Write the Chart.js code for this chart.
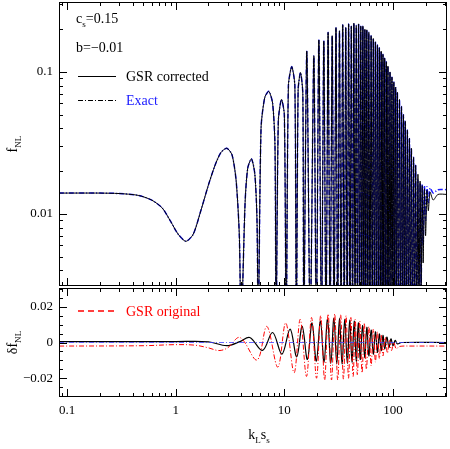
<!DOCTYPE html>
<html><head><meta charset="utf-8">
<script src="https://cdn.jsdelivr.net/npm/chart.js@4"></script>
<style>
body{margin:0;background:#fff}
#top{position:absolute;left:0;top:0}
#bot{position:absolute;left:0;top:286px}
</style></head>
<body>
<div id="top" style="width:450px;height:288px"><canvas id="c1"></canvas></div>
<div id="bot" style="width:450px;height:163px"><canvas id="c2"></canvas></div>
<script>
// top panel: f_NL against k_L s_s (smooth part, then peaks / troughs)
const kTop = [0.084,0.2,0.3,0.45,0.6,0.75,0.9,1.05,1.24,1.45,1.7,2.0,2.3,2.6,2.95,3.3,3.6,3.85,4.0,
  4.35,4.6,4.98,5.35,5.6,5.75, 6.1,6.6,7.2,7.8,8.2,8.4, 8.8,9.4,10.0,10.4,
  10.9,11.7,12.5,12.9, 13.4,14.1,14.8,15.1, 16.1,17.3, 18.7,19.7, 20.8,22.0, 23.1,24.2,
  25.3,26.4,27.6,28.7,29.9,31.0,32.2,33.3,34.5,35.6,36.8,37.9,39.1,40.2,41.4,42.5,43.7,44.8,
  46.0,47.1,48.3,49.4,50.6,51.7,52.9,54.0,55.2,56.3,57.5,58.8,60,61.5,63,64.5,66,67.5,69,70.5,
  72,73.5,75,76.5,78,79.5,81,82.5,84,85.5,87,88.5,90,92,94,96,98,100,102,104,106,108,110,112.5,
  115,117.5,120,122.5,125,127.5,130,133,136,139,142,145,148,151.5,155,158.5,162,166,170,174,
  178,182,186,190,195,200,206,212,220,235,260,315];
const fCorrected = [0.014,0.014,0.0139,0.0135,0.0125,0.011,0.0088,0.0072,0.0064,0.0072,0.0105,0.016,0.022,0.027,0.029,0.026,0.017,0.007,0.0015,
  0.012,0.021,0.0244,0.019,0.009,0.0015, 0.04,0.066,0.073,0.06,0.03,0.0015, 0.045,0.064,0.05,0.0015,
  0.08,0.109,0.08,0.0015, 0.075,0.099,0.07,0.0015, 0.14,0.0015, 0.13,0.0015, 0.168,0.0015, 0.165,0.0015,
  0.19,0.0015,0.18,0.0015,0.205,0.0015,0.195,0.0015,0.215,0.0015,0.205,0.0015,0.218,0.0015,0.21,0.0015,0.22,0.0015,
  0.212,0.0015,0.218,0.0015,0.21,0.0015,0.21,0.0015,0.2,0.0015,0.198,0.0015,0.19,0.0015,0.18,0.0015,0.172,0.0015,0.163,0.0015,
  0.155,0.0015,0.148,0.0015,0.14,0.0015,0.133,0.0015,0.125,0.0015,0.118,0.0015,0.11,0.0015,0.1,0.0015,0.092,0.0015,0.085,0.0015,0.078,0.0015,0.072,0.0015,
  0.064,0.0015,0.057,0.0015,0.05,0.0015,0.045,0.0015,0.039,0.0015,0.034,0.0015,0.029,0.0015,0.025,0.0015,0.022,0.0015,0.019,0.002,
  0.017,0.003,0.0158,0.0045,0.015,0.007,0.0146,0.0105,0.0142,0.0125,0.0137,0.0137];
const fExact = fCorrected.slice(0, fCorrected.length - 14).concat(
  [0.0175,0.0015,0.0165,0.003,0.0162,0.006,0.0158,0.009,0.0155,0.012,0.0152,0.014,0.0148,0.0148]);

// bottom panel: delta f_NL
const kCorr = [0.084,1,2,2.95,3.9,4.8,6.3,7.8,9.5,11.3,13,14.6,16.3,18,19.7,21.5,23.2,25,26.8,28.6,30.4,32.2,34,36,38,40,42,44,46,48,50,52.5,55,57.5,60,63,66,69,72,75,78,81,84,88,92,96,100,105,110,120,315];
const dCorr = [0.0005,0.0005,0.0004,-0.0018,0.0005,0.0028,-0.0044,0.0056,-0.0065,0.0075,-0.008,0.009,-0.0095,0.011,-0.0105,0.012,-0.011,0.013,-0.0115,0.0135,-0.012,0.0135,-0.012,0.013,-0.0115,0.0125,-0.011,0.012,-0.0105,0.011,-0.0095,0.0095,-0.0085,0.0085,-0.0075,0.007,-0.0065,0.006,-0.0055,0.0048,-0.0045,0.004,-0.0035,0.003,-0.0027,0.002,-0.0018,0.0012,-0.0008,0,0];
const kOrig = [0.084,0.5,1,1.5,2.0,2.5,3.0,3.9,5.6,6.9,8.7,10.3,12.3,14,16,17.8,19.8,21.6,23.5,25.3,27.2,29.1,31,33,35,37,39,41,43,45,47,49.5,52,54.5,57,60,63,66,69,72,75,78,81,85,89,93,97,102,107,115,150,315];
const dOrig = [-0.002,-0.0018,-0.0012,-0.0015,-0.003,-0.0045,-0.003,0.0028,-0.0098,0.009,-0.0138,0.011,-0.017,0.013,-0.019,0.014,-0.02,0.015,-0.021,0.016,-0.021,0.016,-0.021,0.0155,-0.0205,0.015,-0.02,0.014,-0.019,0.013,-0.018,0.012,-0.017,0.011,-0.015,0.009,-0.013,0.0075,-0.011,0.006,-0.009,0.0045,-0.0075,0.003,-0.006,0.0015,-0.0045,0,-0.0035,-0.0022,-0.002,-0.002];

const xTicks = [0.1, 1, 10, 100];
const xMin = 0.084, xMax = 315;
const FONT = '"Liberation Serif", serif';
const DASHDOT = [5, 2, 1, 2];

function pts(xs, ys) { return xs.map((x, i) => ({x: x, y: ys[i]})); }

function subText(ctx, parts, x, y, size) {
  let cx = x;
  for (const [t, sub] of parts) {
    ctx.font = (sub ? size * 0.65 : size) + 'px ' + FONT;
    ctx.fillText(t, cx, y + (sub ? size * 0.3 : 0));
    cx += ctx.measureText(t).width;
  }
  return cx;
}
function partsWidth(ctx, parts, size) {
  let w = 0;
  for (const [t, sub] of parts) { ctx.font = (sub ? size * 0.65 : size) + 'px ' + FONT; w += ctx.measureText(t).width; }
  return w;
}
function logTicks(lo, hi) {
  const out = [];
  for (let e = -4; e <= 3; e++) for (let m = 1; m <= 9; m++) {
    const v = m * Math.pow(10, e);
    if (v >= lo && v <= hi) out.push([v, m === 1]);
  }
  return out;
}

const panels = {
  c1: {
    logY: true, yLabels: [0.1, 0.01], yFmt: v => String(v), xLabels: false,
    yTitle: [['f', false], ['NL', true]],
    legend(ctx) {
      ctx.fillStyle = '#000'; ctx.textAlign = 'left'; ctx.textBaseline = 'alphabetic';
      subText(ctx, [['c', false], ['s', true], ['=0.15', false]], 76, 23, 14);
      subText(ctx, [['b=\u22120.01', false]], 76, 52, 14);
      ctx.strokeStyle = '#000'; ctx.lineWidth = 1;
      ctx.beginPath(); ctx.moveTo(78, 76.5); ctx.lineTo(116, 76.5); ctx.stroke();
      ctx.setLineDash(DASHDOT);
      ctx.beginPath(); ctx.moveTo(78, 100.5); ctx.lineTo(116, 100.5); ctx.stroke();
      ctx.setLineDash([]);
      ctx.font = '14px ' + FONT;
      ctx.fillText('GSR corrected', 126, 81);
      ctx.fillStyle = '#2020ff';
      ctx.fillText('Exact', 126, 105);
    }
  },
  c2: {
    logY: false, yLabels: [0.02, 0, -0.02], yFmt: v => v === 0 ? '0' : (v < 0 ? '\u22120.02' : '0.02'), xLabels: true,
    yTitle: [['\u03b4f', false], ['NL', true]],
    legend(ctx) {
      ctx.setLineDash([6, 4]);
      ctx.strokeStyle = '#ff0000'; ctx.lineWidth = 1.5;
      ctx.beginPath(); ctx.moveTo(78, 25); ctx.lineTo(118, 25); ctx.stroke();
      ctx.setLineDash([]);
      ctx.fillStyle = '#ff0000'; ctx.textAlign = 'left'; ctx.textBaseline = 'alphabetic';
      ctx.font = '14px ' + FONT;
      ctx.fillText('GSR original', 126, 30);
    }
  }
};

const framePlugin = {
  id: 'frame',
  afterDraw(chart) {
    const opts = panels[chart.canvas.id];
    const ctx = chart.ctx, a = chart.chartArea, sx = chart.scales.x, sy = chart.scales.y;
    ctx.save();
    ctx.strokeStyle = '#000'; ctx.lineWidth = 1;
    ctx.strokeRect(a.left + 0.5, a.top + 0.5, a.right - a.left - 1, a.bottom - a.top - 1);
    ctx.beginPath();
    for (const [v, major] of logTicks(xMin, xMax)) {
      const px = Math.round(sx.getPixelForValue(v)) + 0.5, L = major ? 8 : 4;
      ctx.moveTo(px, a.bottom); ctx.lineTo(px, a.bottom - L);
      ctx.moveTo(px, a.top); ctx.lineTo(px, a.top + L);
    }
    const yt = opts.logY ? logTicks(sy.min, sy.max)
      : [-6, -5, -4, -3, -2, -1, 0, 1, 2, 3, 4, 5, 6].map(i => [i * 0.005, i % 4 === 0]);
    for (const [v, major] of yt) {
      if (v < sy.min || v > sy.max) continue;
      const py = Math.round(sy.getPixelForValue(v)) + 0.5, L = major ? 8 : 4;
      ctx.moveTo(a.left, py); ctx.lineTo(a.left + L, py);
      ctx.moveTo(a.right, py); ctx.lineTo(a.right - L, py);
    }
    ctx.stroke();
    ctx.fillStyle = '#000';
    ctx.font = '13px ' + FONT;
    ctx.textAlign = 'right'; ctx.textBaseline = 'middle';
    for (const v of opts.yLabels) ctx.fillText(opts.yFmt(v), a.left - 6, sy.getPixelForValue(v));
    if (opts.xLabels) {
      ctx.textAlign = 'center'; ctx.textBaseline = 'top';
      for (const v of xTicks) ctx.fillText(String(v), sx.getPixelForValue(v), a.bottom + 7);
      ctx.textAlign = 'left'; ctx.textBaseline = 'alphabetic';
      const parts = [['k', false], ['L', true], ['s', false], ['s', true]];
      const w = partsWidth(ctx, parts, 14);
      subText(ctx, parts, (a.left + a.right) / 2 - w / 2 + 6, a.bottom + 42, 14);
    }
    ctx.save();
    ctx.translate(17, (a.top + a.bottom) / 2);
    ctx.rotate(-Math.PI / 2);
    ctx.textAlign = 'left'; ctx.textBaseline = 'alphabetic';
    const w = partsWidth(ctx, opts.yTitle, 14);
    subText(ctx, opts.yTitle, -w / 2, 0, 14);
    ctx.restore();
    opts.legend(ctx);
    ctx.restore();
  }
};

function baseOptions(yMin, yMax, yType, padBottom) {
  return {
    responsive: true, maintainAspectRatio: false, animation: false,
    layout: {padding: {left: 59, right: 3, top: 2, bottom: padBottom}},
    plugins: {legend: {display: false}, tooltip: {enabled: false}},
    elements: {point: {radius: 0}},
    scales: {
      x: {type: 'logarithmic', min: xMin, max: xMax, display: false},
      y: {type: yType, min: yMin, max: yMax, display: false}
    }
  };
}

new Chart(document.getElementById('c1'), {
  type: 'line',
  plugins: [framePlugin],
  data: {datasets: [
    {data: pts(kTop, fCorrected), borderColor: '#000', borderWidth: 1, tension: 0.25},
    {data: pts(kTop, fExact), borderColor: '#1a1aff', borderWidth: 1.5, borderDash: DASHDOT, tension: 0.25}
  ]},
  options: baseOptions(0.0031, 0.311, 'logarithmic', 2)
});

new Chart(document.getElementById('c2'), {
  type: 'line',
  plugins: [framePlugin],
  data: {datasets: [
    {data: pts([xMin, xMax], [0, 0]), borderColor: '#4040ff', borderWidth: 0.8, borderDash: DASHDOT},
    {data: pts(kOrig, dOrig), borderColor: '#ff0000', borderWidth: 1, borderDash: DASHDOT, tension: 0.35},
    {data: pts(kCorr, dCorr), borderColor: '#000', borderWidth: 1.2, tension: 0.35}
  ]},
  options: baseOptions(-0.0305, 0.0305, 'linear', 52)
});
</script>
</body></html>
